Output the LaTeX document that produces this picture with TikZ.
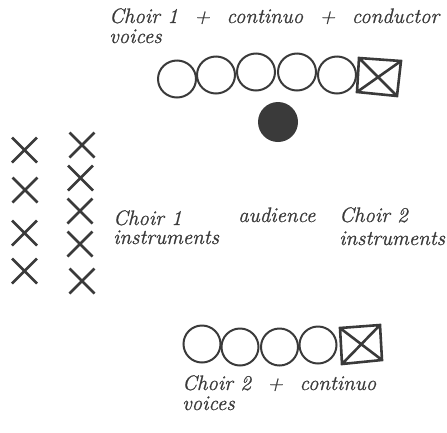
\documentclass[tikz,border=0pt]{standalone}
\usepackage{fontspec}
\setmainfont{Latin Modern Roman}[ItalicFeatures={FakeBold=0.8}]
\definecolor{ink}{HTML}{3A3A3A}
\tikzset{
  lbl/.style={anchor=base west,inner sep=0pt,text=ink,font=\fontsize{21}{19}\selectfont\itshape},
  seat/.style={draw=ink,line width=2pt},
  player/.style={draw=ink,line width=2.6pt}
}
\begin{document}
\begin{tikzpicture}[x=1pt,y=-1pt]
			\useasboundingbox (0,0) rectangle (447,432);
			% choir 1 voices, continuo, conductor
			\foreach \x/\y in {177/79,216/75,256/72,297/72,337/75}
			\draw[seat] (\x,\y) ellipse (19 and 18.5);
			\draw[player] (359,58) -- (401,61) -- (397,96) -- (357,92) -- cycle
			(359,58) -- (397,96) (401,61) -- (357,92);
			\fill[ink] (278,122) circle (20);
			% instruments
			\foreach \x/\y in {24.5/150,25/190,24.5/233,24.5/271,82/145,80.5/178,80/211,80/244,82/281}
			\draw[player] (\x-12.5,\y-12.5) -- (\x+12.5,\y+12.5) (\x-12.5,\y+12.5) -- (\x+12.5,\y-12.5);
			% choir 2 voices, continuo
			\foreach \x/\y in {202/344,240/347,279.5/347,318/345}
			\draw[seat] (\x,\y) ellipse (18.5 and 18.5);
			\draw[player] (340,328) -- (380,325) -- (382,360) -- (342,364) -- cycle
			(340,328) -- (382,360) (380,325) -- (342,364);
			% labels
			\node[lbl] (top) at (109,23) {\makebox[330pt][s]{Choir\hspace{0.36em}1 + continuo + conductor}};
			\node[lbl] (topv) at (109,43) {voices};
			\node[lbl] (ch1) at (113,225) {Choir 1};
			\node[lbl] (ch1i) at (113,244) {instruments};
			\node[lbl] (aud) at (238,222) {audience};
			\node[lbl] (ch2) at (339,222) {Choir 2};
			\node[lbl] (ch2i) at (339,245) {instruments};
			\node[lbl] (bot) at (182,390) {\makebox[194pt][s]{Choir\hspace{0.36em}2 + continuo}};
			\node[lbl] (botv) at (182,410) {voices};
		\end{tikzpicture}
\end{document}
